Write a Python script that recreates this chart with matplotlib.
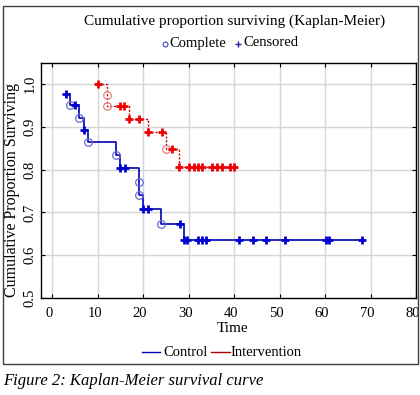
import numpy as np
import matplotlib
matplotlib.use("Agg")
import matplotlib.pyplot as plt
import matplotlib.transforms as mtransforms
from matplotlib.lines import Line2D
from matplotlib.patches import Rectangle

plt.rcParams['font.family'] = ['Liberation Serif', 'DejaVu Serif']

# Kaplan-Meier steps
ctrl_t = [3, 4, 6, 7, 8, 14, 15, 19, 19, 20, 24, 29, 68.2]
ctrl_s = [0.976, 0.95, 0.92, 0.893, 0.864, 0.833, 0.804, 0.772, 0.741, 0.709, 0.674, 0.636, 0.636]
ctrl_done_t = [4, 6, 8, 14, 19, 19, 24]
ctrl_done_s = [0.95, 0.92, 0.864, 0.833, 0.772, 0.741, 0.674]
ctrl_cens = [3, 5, 7, 15, 16, 20, 21, 28.1, 29, 29.7, 32, 32.9, 33.8,
             41.1, 44.1, 47.1, 51.3, 60.2, 60.9, 68.2]

int_t = [10, 12, 12, 17, 21, 25, 28, 40.6]
int_s = [1.0, 0.974, 0.949, 0.919, 0.887, 0.847, 0.805, 0.805]
int_done_t = [12, 12, 25]
int_done_s = [0.974, 0.949, 0.847]
int_cens = [10, 15, 15.8, 17, 19, 21, 24.2, 26.3, 28, 30, 31.1, 32, 33,
            35.1, 36.2, 37.3, 39.1, 40]

xticks = [0, 10, 20, 30, 40, 50, 60, 70, 80]
yticks = [0.5, 0.6, 0.7, 0.8, 0.9, 1.0]


def step_val(times, surv, c):
    i = np.searchsorted(times, c, side='right') - 1
    return surv[i]


blue = '#0000b4'
red = '#dd0000'

fig = plt.figure(figsize=(4.2, 3.95), dpi=100)
W, H = 420.0, 395.0
ax = fig.add_axes([40.7 / W, 1 - 298 / H, (416 - 40.7) / W, (298 - 63) / H])

ax.step(ctrl_t, ctrl_s, where='post', color=blue, lw=1.2, zorder=3)
ax.step(int_t, int_s, where='post', color='#c80000', lw=1.0,
        linestyle=(0, (1.5, 1.2)), zorder=3)

ax.plot(ctrl_done_t, ctrl_done_s, 'o', ms=5.5, mfc='none', mec='#6a6ad8', mew=0.9, zorder=4)
ax.plot(int_done_t, int_done_s, 'o', ms=5.5, mfc='none', mec='#e88080', mew=0.9, zorder=4)

ax.plot(ctrl_cens, [step_val(ctrl_t, ctrl_s, c) for c in ctrl_cens], '+',
        ms=6, mew=2, color='#0000d0', zorder=5)
ax.plot(int_cens, [step_val(int_t, int_s, c) for c in int_cens], '+',
        ms=6, mew=2, color='#ee0000', zorder=5)

ax.set_xlim(-2.5, 80)
ax.set_ylim(0.5, 1.049)
ax.set_xticks(xticks)
ax.set_yticks(yticks)
ax.set_xticklabels([str(v) for v in xticks], fontsize=10.5)
ax.set_yticklabels(['%.1f' % v for v in yticks], fontsize=10.5, rotation=90, va='center')
ax.tick_params(direction='in', length=3, width=0.8, top=True, right=True, pad=3)
ax.tick_params(axis='x', pad=6.5)
shift = mtransforms.ScaledTranslation(-3 / 100, 0, fig.dpi_scale_trans)
for lab in ax.get_xticklabels():
    lab.set_transform(lab.get_transform() + shift)
ax.grid(True, color='#d6d6d6', lw=1)
ax.set_axisbelow(True)
for s in ax.spines.values():
    s.set_linewidth(1.0)

ax.set_xlabel('Time', fontsize=11)
ax.xaxis.set_label_coords(0.51, (298 - 329) / 235.0)
ax.xaxis.label.set_va('center')
ax.set_ylabel('Cumulative Proportion Surviving', fontsize=11.5)
ax.yaxis.set_label_coords((12 - 40.7) / 375.3, (298 - 190) / 235.0)
ax.yaxis.label.set_va('center')

# titles and legends in figure pixels
fig.text(235 / W, 1 - 21 / H, 'Cumulative proportion surviving (Kaplan-Meier)',
         ha='center', va='center', fontsize=11)
fig.add_artist(Line2D([165 / W], [1 - 44 / H], marker='o', ms=3.5, mfc='none',
                      mec='#4040c0', mew=0.8, transform=fig.transFigure))
fig.text(169 / W, 1 - 43 / H, 'Complete', ha='left', va='center', fontsize=10.5)
fig.add_artist(Line2D([238 / W], [1 - 44 / H], marker='+', ms=5, mew=1,
                      color='#2020a0', transform=fig.transFigure))
fig.text(243 / W, 1 - 43 / H, 'Censored', ha='left', va='center', fontsize=10.5)

fig.add_artist(Line2D([142 / W, 160 / W], [1 - 352 / H, 1 - 352 / H], color=blue,
                      lw=1, transform=fig.transFigure))
fig.text(163 / W, 1 - 352 / H, 'Control', ha='left', va='center', fontsize=10.5)
fig.add_artist(Line2D([211 / W, 230 / W], [1 - 352 / H, 1 - 352 / H], color='#b00000',
                      lw=1, transform=fig.transFigure))
fig.text(230 / W, 1 - 352 / H, 'Intervention', ha='left', va='center', fontsize=10.5)

fig.add_artist(Rectangle((3 / W, 1 - 364 / H), 415 / W, 358 / H, fill=False,
                         ec='#404040', lw=1, transform=fig.transFigure))
fig.text(3 / W, 1 - 381 / H, 'Figure 2: Kaplan-Meier survival curve', ha='left',
         va='center', fontsize=12, style='italic')

fig.savefig('out.png', dpi=100)
